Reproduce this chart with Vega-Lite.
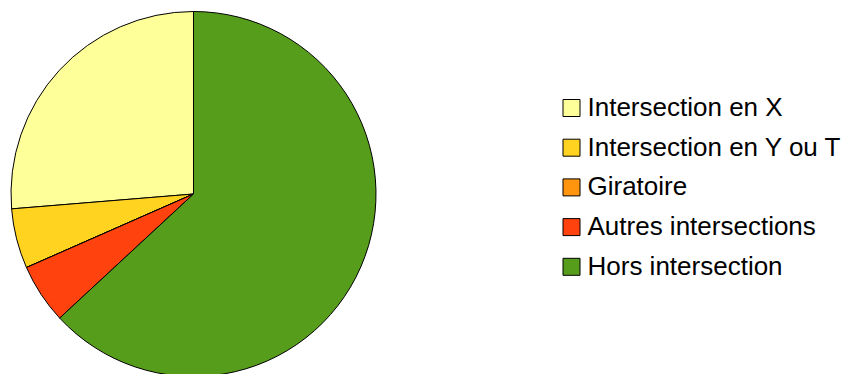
{
  "$schema": "https://vega.github.io/schema/vega-lite/v6.json",
  "width": 387,
  "height": 388,
  "padding": 0,
  "autosize": {"type": "pad"},
  "background": "white",
  "view": {"stroke": null},
  "data": {
    "values": [
      {"categorie": "Intersection en X", "valeur": 26.3},
      {"categorie": "Intersection en Y ou T", "valeur": 5.3},
      {"categorie": "Giratoire", "valeur": 0},
      {"categorie": "Autres intersections", "valeur": 5.3},
      {"categorie": "Hors intersection", "valeur": 63.1}
    ]
  },
  "transform": [
    {"window": [{"op": "row_number", "as": "rang"}]}
  ],
  "mark": {"type": "arc", "outerRadius": 182.5, "stroke": "black", "strokeWidth": 1},
  "encoding": {
    "theta": {"field": "valeur", "type": "quantitative", "stack": true, "scale": {"range": [6.283185307, 0]}},
    "order": {"field": "rang", "type": "quantitative"},
    "color": {
      "field": "categorie",
      "type": "nominal",
      "sort": ["Intersection en X", "Intersection en Y ou T", "Giratoire", "Autres intersections", "Hors intersection"],
      "scale": {
        "domain": ["Intersection en X", "Intersection en Y ou T", "Giratoire", "Autres intersections", "Hors intersection"],
        "range": ["#ffff99", "#ffd320", "#ff950e", "#ff420e", "#579d1c"]
      },
      "legend": {
        "orient": "none",
        "legendX": 558.5,
        "legendY": 95,
        "title": null,
        "padding": 0,
        "symbolType": "square",
        "symbolSize": 289,
        "symbolStrokeColor": "black",
        "symbolStrokeWidth": 1,
        "labelFont": "Liberation Sans",
        "labelFontSize": 26,
        "labelColor": "black",
        "labelOffset": 3,
        "labelLimit": 400,
        "rowPadding": 13.7
      }
    }
  }
}
